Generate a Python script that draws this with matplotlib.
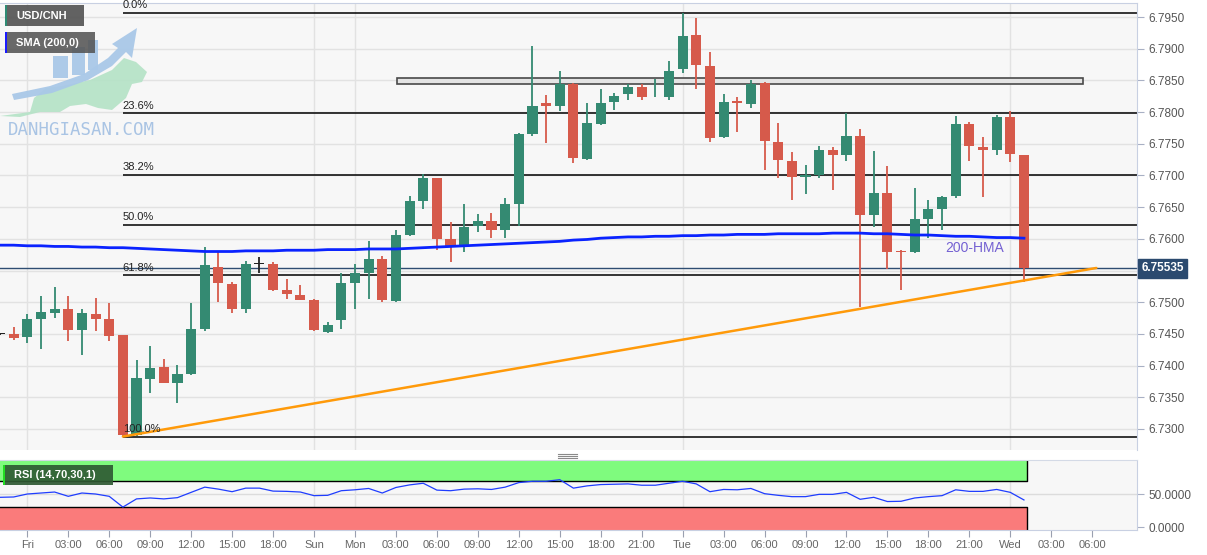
import matplotlib
matplotlib.use("Agg")
import matplotlib.pyplot as plt
import numpy as np
from matplotlib.patches import Rectangle, Polygon
from matplotlib.transforms import blended_transform_factory

plt.rcParams['font.family'] = ['Liberation Sans', 'DejaVu Sans']

# ---------------- data ----------------
# hourly slot index, 0 = Fri 00:00 (weekend gap removed)
slots = list(range(-2, 74))

opens = [6.7450, 6.7450, 6.7445, 6.7473, 6.7483, 6.7490, 6.7456, 6.7482, 6.7474, 6.7448,
         6.7290, 6.7379, 6.7398, 6.7373, 6.7387, 6.7458, 6.7556, 6.7529, 6.7489, 6.7560,
         6.7561, 6.7519, 6.7512, 6.7504, 6.7453, 6.7472, 6.7531, 6.7546, 6.7568, 6.7502,
         6.7606, 6.7660, 6.7696, 6.7600, 6.7588, 6.7620, 6.7628, 6.7614, 6.7655, 6.7765,
         6.7814, 6.7810, 6.7845, 6.7726, 6.7781, 6.7816, 6.7828, 6.7839, 6.7823, 6.7823,
         6.7868, 6.7922, 6.7873, 6.7760, 6.7818, 6.7813, 6.7846, 6.7753, 6.7723, 6.7698,
         6.7700, 6.7740, 6.7732, 6.7763, 6.7637, 6.7673, 6.7581, 6.7580, 6.7632, 6.7647,
         6.7668, 6.7781, 6.7745, 6.7740, 6.7792, 6.7732]
highs = [6.7451, 6.7461, 6.7481, 6.7510, 6.7524, 6.7510, 6.7490, 6.7506, 6.7499, 6.7449,
         6.7409, 6.7431, 6.7411, 6.7401, 6.7498, 6.7587, 6.7581, 6.7532, 6.7565, 6.7572,
         6.7563, 6.7536, 6.7527, 6.7505, 6.7469, 6.7546, 6.7561, 6.7597, 6.7573, 6.7614,
         6.7668, 6.7703, 6.7696, 6.7626, 6.7655, 6.7639, 6.7640, 6.7664, 6.7767, 6.7904,
         6.7827, 6.7865, 6.7846, 6.7815, 6.7836, 6.7830, 6.7844, 6.7845, 6.7852, 6.7880,
         6.7957, 6.7948, 6.7895, 6.7828, 6.7823, 6.7851, 6.7848, 6.7782, 6.7737, 6.7717,
         6.7747, 6.7745, 6.7799, 6.7774, 6.7738, 6.7715, 6.7582, 6.7680, 6.7661, 6.7667,
         6.7794, 6.7785, 6.7760, 6.7795, 6.7802, 6.7733]
lows = [6.7449, 6.7441, 6.7435, 6.7426, 6.7475, 6.7438, 6.7416, 6.7454, 6.7438, 6.7288,
        6.7289, 6.7357, 6.7372, 6.7341, 6.7385, 6.7455, 6.7500, 6.7483, 6.7483, 6.7546,
        6.7518, 6.7505, 6.7503, 6.7455, 6.7452, 6.7458, 6.7489, 6.7505, 6.7501, 6.7500,
        6.7605, 6.7647, 6.7582, 6.7564, 6.7580, 6.7610, 6.7601, 6.7602, 6.7621, 6.7762,
        6.7751, 6.7802, 6.7720, 6.7725, 6.7780, 6.7804, 6.7819, 6.7819, 6.7823, 6.7819,
        6.7862, 6.7836, 6.7752, 6.7759, 6.7769, 6.7806, 6.7709, 6.7696, 6.7662, 6.7670,
        6.7696, 6.7677, 6.7723, 6.7492, 6.7618, 6.7552, 6.7519, 6.7577, 6.7601, 6.7614,
        6.7665, 6.7723, 6.7666, 6.7733, 6.7722, 6.7532]
closes = [6.7450, 6.7444, 6.7473, 6.7485, 6.7490, 6.7456, 6.7483, 6.7474, 6.7447, 6.7290,
          6.7380, 6.7396, 6.7373, 6.7387, 6.7458, 6.7559, 6.7530, 6.7489, 6.7560, 6.7560,
          6.7519, 6.7513, 6.7504, 6.7456, 6.7464, 6.7531, 6.7546, 6.7568, 6.7504, 6.7606,
          6.7660, 6.7696, 6.7600, 6.7588, 6.7619, 6.7628, 6.7614, 6.7655, 6.7765, 6.7810,
          6.7810, 6.7844, 6.7727, 6.7782, 6.7815, 6.7826, 6.7840, 6.7824, 6.7824, 6.7865,
          6.7920, 6.7875, 6.7759, 6.7816, 6.7814, 6.7845, 6.7754, 6.7724, 6.7698, 6.7700,
          6.7740, 6.7732, 6.7762, 6.7637, 6.7673, 6.7580, 6.7580, 6.7631, 6.7647, 6.7666,
          6.7781, 6.7747, 6.7740, 6.7792, 6.7734, 6.75535]
sma200 = [6.7590, 6.7590, 6.7589, 6.7589, 6.7588, 6.7588, 6.7587, 6.7587, 6.7586, 6.7586,
          6.7585, 6.7584, 6.7583, 6.7582, 6.7581, 6.7580, 6.7580, 6.7580, 6.7581, 6.7581,
          6.7581, 6.7582, 6.7582, 6.7582, 6.7583, 6.7583, 6.7583, 6.7584, 6.7584, 6.7584,
          6.7585, 6.7586, 6.7587, 6.7588, 6.7589, 6.7590, 6.7591, 6.7592, 6.7593, 6.7594,
          6.7595, 6.7596, 6.7598, 6.7599, 6.7601, 6.7602, 6.7603, 6.7603, 6.7604, 6.7604,
          6.7605, 6.7605, 6.7606, 6.7606, 6.7607, 6.7607, 6.7607, 6.7608, 6.7608, 6.7608,
          6.7608, 6.7609, 6.7609, 6.7609, 6.7608, 6.7608, 6.7607, 6.7606, 6.7606, 6.7605,
          6.7604, 6.7604, 6.7603, 6.7602, 6.7602, 6.7601]
rsi = [45.0, 45.5, 50.0, 51.5, 53.0, 46.5, 51.5, 50.0, 46.5, 30.2,
       42.6, 44.0, 42.6, 44.5, 52.5, 60.4, 57.4, 53.5, 58.9, 58.9,
       54.4, 54.0, 53.0, 47.5, 48.0, 55.0, 56.4, 58.4, 51.5, 59.9,
       63.8, 66.3, 55.9, 55.0, 57.4, 57.9, 56.9, 60.4, 67.3, 69.3,
       69.3, 71.7, 58.9, 62.3, 64.3, 64.8, 65.3, 63.3, 63.3, 66.3,
       69.3, 65.3, 53.5, 56.9, 56.4, 58.4, 50.5, 48.0, 46.0, 46.0,
       49.5, 49.5, 52.5, 42.0, 45.0, 38.6, 39.0, 44.0, 46.0, 47.5,
       56.4, 54.0, 54.0, 56.9, 52.5, 41.0]

tick_slots = [0, 3, 6, 9, 12, 15, 18, 21, 24, 27, 30, 33, 36, 39, 42, 45, 48,
              51, 54, 57, 60, 63, 66, 69, 72, 75, 78]
tick_labels = ['Fri', '03:00', '06:00', '09:00', '12:00', '15:00', '18:00', 'Sun',
               'Mon', '03:00', '06:00', '09:00', '12:00', '15:00', '18:00', '21:00',
               'Tue', '03:00', '06:00', '09:00', '12:00', '15:00', '18:00', '21:00',
               'Wed', '03:00', '06:00']
day_slots = [0, 21, 24, 48, 72]
grid_prices = [6.7300, 6.7350, 6.7400, 6.7450, 6.7500, 6.7550, 6.7600, 6.7650,
               6.7700, 6.7750, 6.7800, 6.7850, 6.7900, 6.7950]
# 6.7550 label is hidden behind the last-price badge
price_ticks = [6.7300, 6.7350, 6.7400, 6.7450, 6.7500, 6.7600, 6.7650,
               6.7700, 6.7750, 6.7800, 6.7850, 6.7900, 6.7950]
rsi_ticks = [0, 50]

fib_pcts = [0.0, 23.6, 38.2, 50.0, 61.8, 100.0]
fib_high = 6.7957
fib_low = 6.7288
fib_start_slot = 7

trend_slots = [7, 78.3]
trend_prices = [6.7288, 6.7554]

zone_slots = [27.1, 77.3]
zone_prices = [6.7845, 6.7853]

last_price = 6.75535
hma_label_slot = 69.4
hma_label_price = 6.7586

# ---------------- layout ----------------
W, H = 1207, 555
fig = plt.figure(figsize=(W / 100, H / 100), dpi=100)
fig.patch.set_facecolor('white')


def rect(x0, y0, x1, y1):
    return [x0 / W, 1 - y1 / H, (x1 - x0) / W, (y1 - y0) / H]


BG = '#f7f7f7'
GRID = '#e2e2e2'
GREEN = '#348a72'
RED = '#d65a4b'
XLIM = (-2.0, 81.28)

ax = fig.add_axes(rect(0, 3, 1137, 450))
ax.set_facecolor(BG)
ax.set_xlim(*XLIM)
ax.set_ylim(6.72668, 6.79721)

# grid
for p in grid_prices:
    ax.axhline(p, color=GRID, lw=1, zorder=0)
for d in day_slots:
    ax.axvline(d, color=GRID, lw=1, zorder=0)

x = np.array(slots, dtype=float)
o = np.array(opens); c = np.array(closes); h = np.array(highs); l = np.array(lows)
cols = []
for oi, ci in zip(o, c):
    if abs(ci - oi) < 1e-6:
        cols.append('#222222')
    elif ci > oi:
        cols.append(GREEN)
    else:
        cols.append(RED)

# fib retracement
fib_prices = [fib_high - p / 100 * (fib_high - fib_low) for p in fib_pcts]
ax.hlines(fib_prices, fib_start_slot, XLIM[1], color='black', lw=1.1, zorder=2)
for pct, fp in zip(fib_pcts, fib_prices):
    ax.annotate(f'{pct:.1f}%', (fib_start_slot, fp), xytext=(0, 1.5),
                textcoords='offset points', va='bottom', ha='left',
                fontsize=8, color='#222222', zorder=6)

# zone rectangle
ax.add_patch(Rectangle((zone_slots[0], zone_prices[0]), zone_slots[1] - zone_slots[0],
                       zone_prices[1] - zone_prices[0], fc='#e4e4e4', ec='#4a4a4a',
                       lw=1.2, zorder=2))

# last price line
ax.axhline(last_price, color='#2f4d72', lw=1, zorder=2)

# candles
ax.vlines(x, l, h, colors=cols, lw=1.3, zorder=3)
body_bottom = np.minimum(o, c)
body_h = np.maximum(np.abs(c - o), 0.00012)
ax.bar(x, body_h, bottom=body_bottom, width=0.74, color=cols, lw=0, zorder=4)

# SMA 200
ax.plot(x, sma200, color='#0a23ff', lw=2, zorder=5)
ax.text(hma_label_slot, hma_label_price, '200-HMA', color='#7461d2', fontsize=10,
        ha='center', va='center', zorder=6)

# trend line
ax.plot(trend_slots, trend_prices, color='#ff9a0a', lw=1.8, zorder=5, solid_capstyle='round')

# axes styling
ax.yaxis.tick_right()
ax.set_yticks(price_ticks)
ax.set_yticklabels([f'{p:.4f}' for p in price_ticks])
ax.tick_params(axis='y', length=5, color='#a8b0c4', labelcolor='#555555', labelsize=8.5, pad=3)
ax.set_xticks([])
for s in ['left', 'bottom']:
    ax.spines[s].set_visible(False)
ax.spines['top'].set_color('#c8d0e2')
ax.spines['right'].set_color('#c8d0e2')

# price label
tr = blended_transform_factory(ax.transAxes, ax.transData)
ax.text(1.004, last_price, f'{last_price:.5f}', transform=tr, color='white',
        fontsize=8.5, fontweight='bold', va='center', ha='left', clip_on=False, zorder=10,
        bbox=dict(boxstyle='square,pad=0.28', fc='#2b4a6f', ec='#2b4a6f'))

# ---------------- RSI panel ----------------
rax = fig.add_axes(rect(0, 460, 1137, 530))
rax.set_facecolor(BG)
rax.set_xlim(*XLIM)
rax.set_ylim(-4.5, 101.5)
rax.axhline(50, color='#dcdcdc', lw=1, zorder=0)
for d in day_slots:
    rax.axvline(d, color=GRID, lw=1, zorder=0)
band_end = slots[-1] + 0.22
rax.add_patch(Rectangle((XLIM[0], 70), band_end - XLIM[0], 30, fc='#7ffb7e', ec='none', zorder=1))
rax.add_patch(Rectangle((XLIM[0], -4.5), band_end - XLIM[0], 34.5, fc='#fa7b7b', ec='none', zorder=1))
rax.plot([XLIM[0], band_end, band_end], [70, 70, 100], color='black', lw=1, zorder=2)
rax.plot([XLIM[0], band_end, band_end], [30, 30, -4.5], color='black', lw=1, zorder=2)
rax.plot(x, rsi, color='#1f3dff', lw=0.9, zorder=3)

rax.yaxis.tick_right()
rax.set_yticks(rsi_ticks)
rax.set_yticklabels([f'{v:.4f}' for v in rsi_ticks])
rax.tick_params(axis='y', length=5, color='#a8b0c4', labelcolor='#555555', labelsize=8.5, pad=3)
rax.set_xticks(tick_slots)
rax.set_xticklabels(tick_labels)
rax.tick_params(axis='x', length=5, color='#9aa0b0', labelcolor='#666666', labelsize=8, pad=2)
rax.spines['left'].set_visible(False)
rax.spines['top'].set_color('#d4dae6')
rax.spines['right'].set_color('#c8d0e2')
rax.spines['bottom'].set_color('#c8d0e2')

# ---------------- overlay decorations ----------------
oax = fig.add_axes([0, 0, 1, 1])
oax.set_xlim(0, W)
oax.set_ylim(H, 0)
oax.axis('off')
oax.patch.set_alpha(0)

# watermark logo
oax.add_patch(Polygon([(0, 116), (30, 112), (34, 98), (46, 88), (62, 86), (90, 80),
                       (112, 70), (124, 58), (136, 62), (147, 72), (142, 82), (132, 84),
                       (126, 98), (112, 110), (98, 108), (86, 104), (70, 106), (60, 112),
                       (40, 112), (20, 117)], closed=True, fc='#b4e2c6', ec='none', alpha=0.9))
oax.add_patch(Polygon([(12, 94), (50, 86), (84, 74), (108, 58), (118, 48), (112, 44),
                       (137, 28), (132, 58), (126, 52), (112, 66), (88, 80), (52, 93), (14, 100)],
                      closed=True, fc='#a9c8e8', ec='none', alpha=0.95))
for (bx, by, bw, bh) in [(53, 56, 15, 22), (72, 47, 13, 28), (88, 40, 10, 30)]:
    oax.add_patch(Rectangle((bx, by), bw, bh, fc='#a9c8e8', ec='none', alpha=0.95))
oax.text(8, 130, 'DANHGIASAN.COM', fontsize=12.5, family='DejaVu Sans Mono',
         color='#a9c4e4', va='center', ha='left')

# title boxes
oax.add_patch(Rectangle((5, 5), 79, 21, fc='#555555', ec='none', alpha=0.92))
oax.add_patch(Rectangle((5, 5), 2, 21, fc='#2e8b74', ec='none'))
oax.text(16, 15.8, 'USD/CNH', color='white', fontsize=8, fontweight='bold', va='center')
oax.add_patch(Rectangle((5, 32), 90, 21, fc='#555555', ec='none', alpha=0.88))
oax.add_patch(Rectangle((5, 32), 2, 21, fc='#1a1aff', ec='none'))
oax.text(16, 42.8, 'SMA (200,0)', color='white', fontsize=8, fontweight='bold', va='center')
oax.add_patch(Rectangle((3, 465), 110, 20, fc='#2f5a33', ec='none', alpha=0.92))
oax.add_patch(Rectangle((3, 465), 2, 20, fc='#22dd22', ec='none'))
oax.text(14, 475.5, 'RSI (14,70,30,1)', color='white', fontsize=8, fontweight='bold', va='center')

# price pointer
oax.add_patch(Polygon([(1137.5, 268.3), (1141, 264.5), (1141, 272)], closed=True,
                      fc='#2b4a6f', ec='none'))

# panel grip
for gy in (453.5, 455.5, 457.5):
    oax.plot([558, 577], [gy, gy], color='#8a8a8a', lw=0.8)

fig.savefig('out.png', dpi=100, facecolor='white')
